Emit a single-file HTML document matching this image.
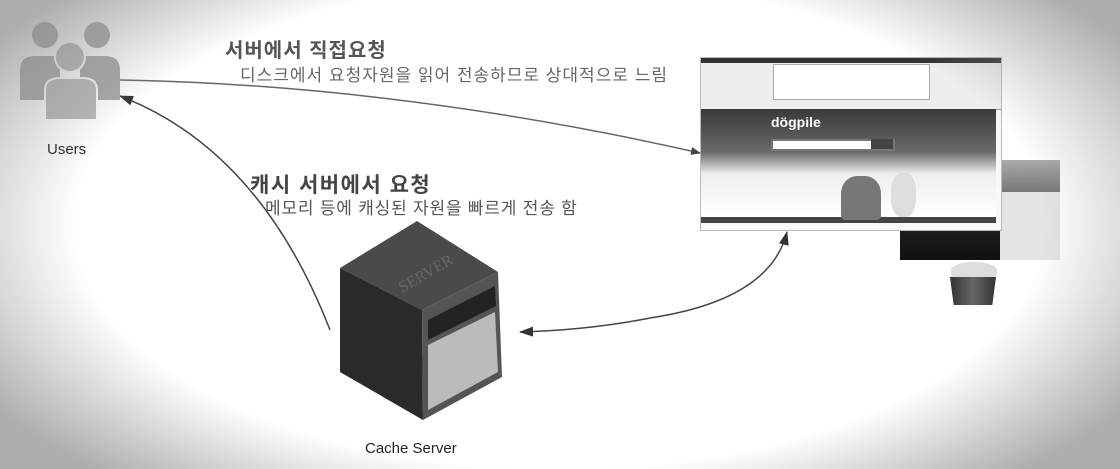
<!DOCTYPE html>
<html><head><meta charset="utf-8"><style>
html,body{margin:0;padding:0}
body{width:1120px;height:469px;position:relative;overflow:hidden;background:#fff;font-family:"Liberation Sans","Noto Sans CJK KR",sans-serif}
.vig{position:absolute;inset:0;background:radial-gradient(ellipse 60% 72% at 50% 48%,rgba(255,255,255,0) 72%,rgba(140,140,140,.7) 100%);pointer-events:none}
.t{position:absolute;white-space:nowrap}
</style></head><body>
<!-- sea image -->
<div style="position:absolute;left:900px;top:160px;width:160px;height:100px;background:linear-gradient(#aaa,#6a6a6a 40%,#1e1e1e 65%,#111)"></div>
<div style="position:absolute;left:1000px;top:192px;width:60px;height:68px;background:#e4e4e4"></div>
<!-- cupcake -->
<div style="position:absolute;left:951px;top:262px;width:46px;height:16px;border-radius:50% 50% 20% 20%;background:#ddd"></div>
<div style="position:absolute;left:950px;top:277px;width:46px;height:28px;background:linear-gradient(90deg,#333,#666,#333);clip-path:polygon(0 0,100% 0,92% 100%,8% 100%)"></div>
<!-- browser screenshot -->
<div style="position:absolute;left:700px;top:57px;width:300px;height:172px;background:#f8f8f8;border:1px solid #bbb">
 <div style="height:5px;background:#333"></div>
 <div style="height:46px;background:#eee;border-bottom:1px solid #999"></div>
 <div style="position:absolute;left:72px;top:6px;width:155px;height:34px;background:#fff;border:1px solid #aaa"></div>
 <div style="position:absolute;left:0;top:51px;width:295px;height:108px;background:linear-gradient(#3a3a3a,#6a6a6a 40%,#eee 60%,#fff)"></div>
 <div class="t" style="left:70px;top:56px;color:#fff;font-weight:bold;font-size:14px">dögpile</div>
 <div style="position:absolute;left:70px;top:81px;width:120px;height:8px;background:#fff;border:2px solid #777"></div>
 <div style="position:absolute;left:170px;top:81px;width:22px;height:10px;background:#444"></div>
 <div style="position:absolute;left:0;top:159px;width:295px;height:6px;background:#444"></div>
 <div style="position:absolute;left:140px;top:118px;width:40px;height:44px;background:#777;border-radius:40% 40% 10% 10%"></div>
 <div style="position:absolute;left:190px;top:115px;width:25px;height:44px;background:#ddd;border-radius:40%"></div>
</div>
<svg width="1120" height="469" style="position:absolute;left:0;top:0">
 <defs><marker id="a" markerWidth="10" markerHeight="8" refX="9" refY="4" orient="auto" markerUnits="userSpaceOnUse"><path d="M0,0 L10,4 L0,8z" fill="#444"/></marker>
 <marker id="b" markerWidth="14" markerHeight="10" refX="13" refY="5" orient="auto" markerUnits="userSpaceOnUse"><path d="M0,0 L14,5 L0,10z" fill="#333"/></marker></defs>
 <path d="M120,80 Q400,85 700,153" stroke="#666" stroke-width="1.5" fill="none" marker-end="url(#a)"/>
 <path d="M330,330 Q260,150 120,96" stroke="#444" stroke-width="1.5" fill="none" marker-end="url(#b)"/>
 <path d="M650,318 Q770,300 787,232" stroke="#444" stroke-width="1.5" fill="none" marker-end="url(#b)"/>
 <path d="M650,318 Q590,330 520,332" stroke="#444" stroke-width="1.5" fill="none" marker-end="url(#b)"/>
 <g fill="#a8a8a8">
  <circle cx="45" cy="35" r="13"/><circle cx="97" cy="35" r="13"/>
  <path d="M20,100 V70 Q20,56 35,56 H60 V100z"/><path d="M120,100 V70 Q120,56 105,56 H80 V100z"/>
 </g>
 <g fill="#b8b8b8" stroke="#fff" stroke-width="2">
  <circle cx="70" cy="57" r="15"/>
  <path d="M45,120 V90 Q45,78 60,78 H82 Q97,78 97,90 V120z"/>
 </g>
 <polygon points="340,268 417,221 498,272 422,310" fill="#4a4a4a"/>
 <polygon points="340,268 422,310 423,420 340,372" fill="#2a2a2a"/>
 <polygon points="422,310 498,272 502,377 423,420" fill="#555"/>
 <polygon points="428,320 495,286 496,306 428,340" fill="#222"/>
 <polygon points="428,345 495,312 498,372 428,410" fill="#bbb"/>
 <text x="392" y="286" fill="#666" font-size="16" font-family="Liberation Serif" transform="rotate(-30 410 270)">SERVER</text>
</svg>
<div class="t" style="left:47px;top:141px;font-size:15px;color:#222">Users</div>
<div class="t" style="left:365px;top:440px;font-size:15px;color:#222">Cache Server</div>
<div class="t" style="left:225px;top:34px;font-size:20px;font-weight:bold;color:#555;letter-spacing:1px">서버에서  직접요청</div>
<div class="t" style="left:240px;top:61px;font-size:17px;color:#666;letter-spacing:1px">디스크에서 요청자원을 읽어 전송하므로 상대적으로 느림</div>
<div class="t" style="left:250px;top:169px;font-size:21px;font-weight:bold;color:#444;letter-spacing:1.5px">캐시  서버에서  요청</div>
<div class="t" style="left:265px;top:194px;font-size:17px;color:#555;letter-spacing:0.8px">메모리 등에 캐싱된 자원을  빠르게 전송 함</div>
<div class="vig"></div>
</body></html>
